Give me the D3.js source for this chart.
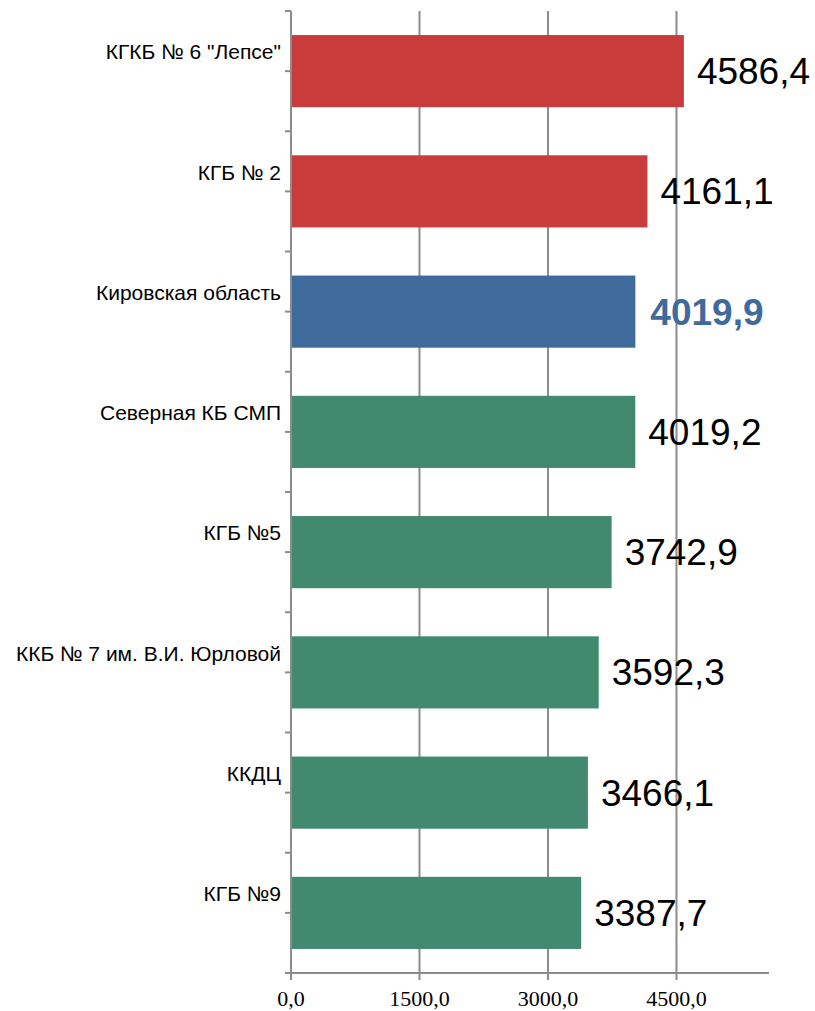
<!DOCTYPE html>
<html>
<head>
<meta charset="utf-8">
<script src="https://cdn.jsdelivr.net/npm/d3@7"></script>
<style>
  body { margin: 0; background: #fff; }
  svg { display: block; }
  .cat-label { font-family: Arial, "Liberation Sans", sans-serif; font-size: 21px; fill: #000; }
  .val-label { font-family: Arial, "Liberation Sans", sans-serif; font-size: 37px; fill: #000; }
  .tick-label { font-family: "Liberation Serif", "DejaVu Serif", serif; font-size: 22px; fill: #000; }
</style>
</head>
<body>
<svg width="815" height="1011"></svg>
<script>
// data
var categories = [
    'КГКБ № 6 "Лепсе"',
    'КГБ № 2',
    'Кировская область',
    'Северная КБ СМП',
    'КГБ №5',
    'ККБ № 7 им. В.И. Юрловой',
    'ККДЦ',
    'КГБ №9'
];
var values = [4586.4, 4161.1, 4019.9, 4019.2, 3742.9, 3592.3, 3466.1, 3387.7];
var barGroups = ['top', 'top', 'region', 'other', 'other', 'other', 'other', 'other'];
var xTicks = [0, 1500, 3000, 4500];

var colors = { top: '#c83c3c', region: '#3f6a9c', other: '#428a6f' };
var axisColor = '#8c8c8c';

var svg = d3.select('svg');
var padding = { t: 11, l: 291 };
var chartBottom = 973;

var xScale = d3.scaleLinear().domain([0, 5580]).range([padding.l, 769]);
var yScale = d3.scaleBand()
    .domain(categories)
    .range([padding.t, chartBottom])
    .paddingInner(0.4)
    .paddingOuter(0.2);

var fmt = function (v) { return d3.format('.1f')(v).replace('.', ','); };

// vertical gridlines
svg.append('g').selectAll('line')
    .data(xTicks.slice(1))
    .enter().append('line')
    .attr('x1', d => xScale(d)).attr('x2', d => xScale(d))
    .attr('y1', padding.t).attr('y2', chartBottom + 7)
    .attr('stroke', axisColor).attr('stroke-width', 2);

// bars
svg.append('g').selectAll('rect')
    .data(categories)
    .enter().append('rect')
    .attr('x', xScale(0))
    .attr('y', d => yScale(d))
    .attr('width', (d, i) => xScale(values[i]) - xScale(0))
    .attr('height', yScale.bandwidth())
    .attr('fill', (d, i) => colors[barGroups[i]]);

// y axis line and ticks (every half band)
var step = yScale.step();
svg.append('line')
    .attr('x1', padding.l).attr('x2', padding.l)
    .attr('y1', padding.t).attr('y2', chartBottom)
    .attr('stroke', axisColor).attr('stroke-width', 2);
var yTickPos = d3.range(0, categories.length * 2).map(i => padding.t + i * step / 2);
svg.append('g').selectAll('line')
    .data(yTickPos)
    .enter().append('line')
    .attr('x1', padding.l - 6).attr('x2', padding.l)
    .attr('y1', d => d).attr('y2', d => d)
    .attr('stroke', axisColor).attr('stroke-width', 2);

// x axis line and ticks
svg.append('line')
    .attr('x1', padding.l - 6).attr('x2', 769)
    .attr('y1', chartBottom).attr('y2', chartBottom)
    .attr('stroke', axisColor).attr('stroke-width', 2);
svg.append('line')
    .attr('x1', padding.l).attr('x2', padding.l)
    .attr('y1', chartBottom).attr('y2', chartBottom + 7)
    .attr('stroke', axisColor).attr('stroke-width', 2);

svg.append('g').selectAll('text')
    .data(xTicks)
    .enter().append('text')
    .attr('class', 'tick-label')
    .attr('x', d => xScale(d))
    .attr('y', 1006)
    .attr('text-anchor', 'middle')
    .text(d => fmt(d));

// category labels
svg.append('g').selectAll('text')
    .data(categories)
    .enter().append('text')
    .attr('class', 'cat-label')
    .attr('x', 281)
    .attr('y', d => yScale(d) + yScale.bandwidth() / 2 - 19)
    .attr('dy', '0.35em')
    .attr('text-anchor', 'end')
    .text(d => d);

// value labels
svg.append('g').selectAll('text')
    .data(categories)
    .enter().append('text')
    .attr('class', 'val-label')
    .attr('x', (d, i) => xScale(values[i]) + (barGroups[i] === 'region' ? 15 : 13))
    .attr('y', d => yScale(d) + yScale.bandwidth() / 2)
    .attr('dy', '0.35em')
    .style('font-weight', (d, i) => barGroups[i] === 'region' ? 'bold' : 'normal')
    .style('fill', (d, i) => barGroups[i] === 'region' ? colors.region : '#000')
    .text((d, i) => fmt(values[i]));
</script>
</body>
</html>
